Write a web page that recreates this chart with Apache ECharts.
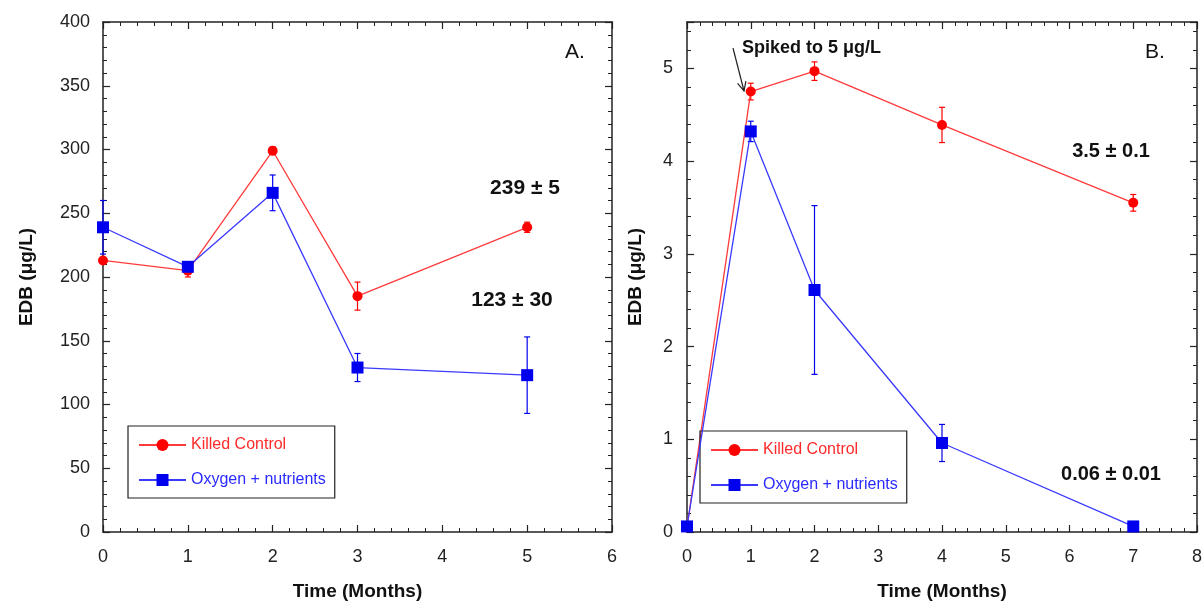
<!DOCTYPE html>
<html>
<head>
<meta charset="utf-8">
<script src="https://cdn.jsdelivr.net/npm/echarts@6/dist/echarts.min.js"></script>
<style>
html,body{margin:0;padding:0;background:#fff;}
#chart{width:1204px;height:602px;}
</style>
</head>
<body>
<div id="chart"></div>
<script>
// ---- Panel A data ----
const monthsA = [0, 1, 2, 3, 5];
const killedA = [213, 205, 299, 185, 239];
const killedErrA = [2, 5, 3, 11, 4];
const oxygenA = [239, 208, 266, 129, 123];
const oxygenErrA = [21, 3, 14, 11, 30];
// ---- Panel B data ----
const monthsB = [0, 1, 2, 4, 7];
const killedB = [0.05, 4.75, 4.97, 4.39, 3.55];
const killedErrB = [0, 0.09, 0.1, 0.19, 0.09];
const oxygenB = [0.06, 4.32, 2.61, 0.96, 0.06];
const oxygenErrB = [0.01, 0.11, 0.91, 0.2, 0.01];
// ---- Axis ranges / tick labels ----
const xTicksA = [0, 1, 2, 3, 4, 5, 6];
const yTicksA = [0, 50, 100, 150, 200, 250, 300, 350, 400];
const xTicksB = [0, 1, 2, 3, 4, 5, 6, 7, 8];
const yTicksB = [0, 1, 2, 3, 4, 5];
const yMaxB = 5.5;
const seriesNames = ['Killed Control', 'Oxygen + nutrients'];
const annotA = ['A.', '239 ± 5', '123 ± 30'];
const annotB = ['B.', '3.5 ± 0.1', '0.06 ± 0.01', 'Spiked to 5 μg/L'];

const RED = '#ff0000', BLUE = '#0000ee';
const RED_LINE = '#ff3a3a', BLUE_LINE = '#3a3aff';
const FONT = '"Liberation Sans", Arial, sans-serif';
const AXC = '#222';

function pairs(xs, ys) { return xs.map((x, i) => [x, ys[i]]); }
function triples(xs, ys, es) { return xs.map((x, i) => [x, ys[i], es[i]]); }

function axisCommon(extra) {
  return Object.assign({
    axisLine: { show: true, onZero: false, lineStyle: { color: AXC, width: 1.5 } },
    axisTick: { show: true, inside: true, length: 7, lineStyle: { color: AXC, width: 1.2 } },
    minorTick: { show: true, splitNumber: 5, length: 4, lineStyle: { color: AXC, width: 1 } },
    splitLine: { show: false },
    axisLabel: { show: true, color: '#222', fontSize: 18, fontFamily: FONT, margin: 13 }
  }, extra);
}
function mirror(extra) {
  const a = axisCommon(extra);
  a.axisLabel = { show: false };
  return a;
}
const intLabel = v => (Math.abs(v - Math.round(v)) < 1e-9 ? String(Math.round(v)) : '');
const xLabel = { show: true, color: '#222', fontSize: 18, fontFamily: FONT, margin: 16 };

function errSeries(name, xi, yi, data, color) {
  return {
    type: 'custom', name: name + ' err', xAxisIndex: xi, yAxisIndex: yi,
    encode: { x: 0, y: 1 }, data: data, z: 2, silent: true,
    renderItem: function (params, api) {
      const x = api.value(0), y = api.value(1), e = api.value(2);
      if (!e) return null;
      const top = api.coord([x, y + e]);
      const bot = api.coord([x, y - e]);
      const w = 3;
      const st = { stroke: color, lineWidth: 1.2 };
      return {
        type: 'group',
        children: [
          { type: 'line', shape: { x1: top[0], y1: top[1], x2: bot[0], y2: bot[1] }, style: st },
          { type: 'line', shape: { x1: top[0] - w, y1: top[1], x2: top[0] + w, y2: top[1] }, style: st },
          { type: 'line', shape: { x1: bot[0] - w, y1: bot[1], x2: bot[0] + w, y2: bot[1] }, style: st }
        ]
      };
    }
  };
}
function lineSeries(name, xi, yi, data, isKilled) {
  return {
    type: 'line', name: name, xAxisIndex: xi, yAxisIndex: yi, data: data,
    symbol: isKilled ? 'circle' : 'rect', symbolSize: isKilled ? 10 : 12,
    itemStyle: { color: isKilled ? RED : BLUE },
    lineStyle: { color: isKilled ? RED_LINE : BLUE_LINE, width: 1.3 },
    z: isKilled ? 3 : 4
  };
}
function legendAt(left, top) {
  return {
    orient: 'vertical', left: left, top: top,
    itemWidth: 47, itemHeight: 15, itemGap: 19,
    padding: [11, 9, 10, 10],
    borderColor: '#222', borderWidth: 1.2,
    textStyle: { fontSize: 16, fontFamily: FONT },
    data: [
      { name: seriesNames[0], textStyle: { color: '#ff2a2a' } },
      { name: seriesNames[1], textStyle: { color: '#2a2aff' } }
    ],
    selectedMode: false
  };
}
const titleStyle = { fontSize: 19, fontWeight: 'bold', fontFamily: FONT, color: '#111' };

const option = {
  animation: false,
  backgroundColor: '#fff',
  grid: [
    { left: 103, right: 592, top: 22, bottom: 70, outerBoundsMode: 'none', containLabel: false },
    { left: 687, right: 7, top: 22, bottom: 70, outerBoundsMode: 'none', containLabel: false }
  ],
  xAxis: [
    axisCommon({ gridIndex: 0, type: 'value', position: 'bottom', min: xTicksA[0], max: xTicksA[xTicksA.length - 1], interval: 1,
      axisLabel: xLabel,
      name: 'Time (Months)', nameLocation: 'middle', nameGap: 50, nameTextStyle: titleStyle }),
    mirror({ gridIndex: 0, type: 'value', position: 'top', min: xTicksA[0], max: xTicksA[xTicksA.length - 1], interval: 1 }),
    axisCommon({ gridIndex: 1, type: 'value', position: 'bottom', min: xTicksB[0], max: xTicksB[xTicksB.length - 1], interval: 1,
      axisLabel: xLabel,
      name: 'Time (Months)', nameLocation: 'middle', nameGap: 50, nameTextStyle: titleStyle }),
    mirror({ gridIndex: 1, type: 'value', position: 'top', min: xTicksB[0], max: xTicksB[xTicksB.length - 1], interval: 1 })
  ],
  yAxis: [
    axisCommon({ gridIndex: 0, type: 'value', position: 'left', min: yTicksA[0], max: yTicksA[yTicksA.length - 1], interval: 50,
      name: 'EDB (μg/L)', nameLocation: 'middle', nameGap: 67, nameTextStyle: titleStyle }),
    mirror({ gridIndex: 0, type: 'value', position: 'right', min: yTicksA[0], max: yTicksA[yTicksA.length - 1], interval: 50 }),
    axisCommon({ gridIndex: 1, type: 'value', position: 'left', min: yTicksB[0], max: yMaxB, interval: 1,
      name: 'EDB (μg/L)', nameLocation: 'middle', nameGap: 42, nameTextStyle: titleStyle,
      axisLabel: { show: true, color: '#222', fontSize: 18, fontFamily: FONT, margin: 14, formatter: intLabel } }),
    mirror({ gridIndex: 1, type: 'value', position: 'right', min: yTicksB[0], max: yMaxB, interval: 1 })
  ],
  legend: [legendAt(128, 426), legendAt(700, 431)],
  series: [
    lineSeries(seriesNames[0], 0, 0, pairs(monthsA, killedA), true),
    errSeries(seriesNames[0], 0, 0, triples(monthsA, killedA, killedErrA), RED),
    lineSeries(seriesNames[1], 0, 0, pairs(monthsA, oxygenA), false),
    errSeries(seriesNames[1], 0, 0, triples(monthsA, oxygenA, oxygenErrA), BLUE),
    lineSeries(seriesNames[0], 2, 2, pairs(monthsB, killedB), true),
    errSeries(seriesNames[0], 2, 2, triples(monthsB, killedB, killedErrB), RED),
    lineSeries(seriesNames[1], 2, 2, pairs(monthsB, oxygenB), false),
    errSeries(seriesNames[1], 2, 2, triples(monthsB, oxygenB, oxygenErrB), BLUE)
  ],
  graphic: [
    { type: 'text', x: 575, y: 52, style: { text: annotA[0], font: '21px ' + FONT, fill: '#111', align: 'center', verticalAlign: 'middle' } },
    { type: 'text', x: 525, y: 188, style: { text: annotA[1], font: 'bold 21px ' + FONT, fill: '#111', align: 'center', verticalAlign: 'middle' } },
    { type: 'text', x: 512, y: 300, style: { text: annotA[2], font: 'bold 21px ' + FONT, fill: '#111', align: 'center', verticalAlign: 'middle' } },
    { type: 'text', x: 1155, y: 52, style: { text: annotB[0], font: '21px ' + FONT, fill: '#111', align: 'center', verticalAlign: 'middle' } },
    { type: 'text', x: 1111, y: 151, style: { text: annotB[1], font: 'bold 20px ' + FONT, fill: '#111', align: 'center', verticalAlign: 'middle' } },
    { type: 'text', x: 1111, y: 474, style: { text: annotB[2], font: 'bold 20px ' + FONT, fill: '#111', align: 'center', verticalAlign: 'middle' } },
    { type: 'text', x: 742, y: 48, style: { text: annotB[3], font: 'bold 18px ' + FONT, fill: '#111', align: 'left', verticalAlign: 'middle' } },
    { type: 'line', shape: { x1: 733, y1: 48, x2: 744, y2: 91 }, style: { stroke: '#222', lineWidth: 1.2 } },
    { type: 'polyline', shape: { points: [[737.6, 83.3], [744, 91], [745.9, 81.2]] }, style: { stroke: '#222', lineWidth: 1.2, fill: null } }
  ]
};

const chart = echarts.init(document.getElementById('chart'), null, { renderer: 'canvas' });
chart.setOption(option);
</script>
</body>
</html>
